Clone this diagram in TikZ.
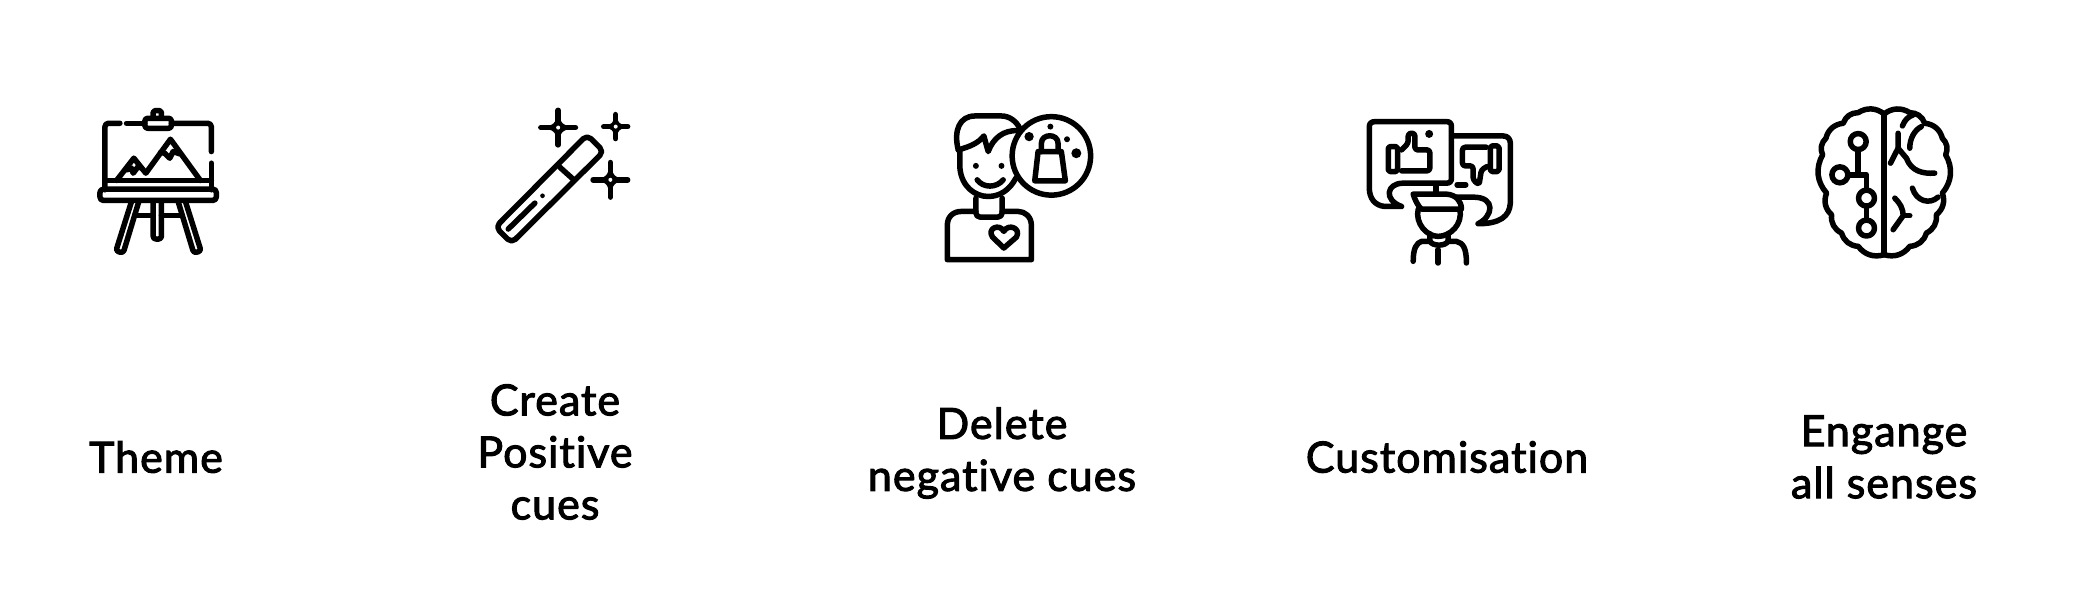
\documentclass[tikz,border=0pt]{standalone}
\usepackage{fontspec}
\setmainfont{Lato}[FakeBold=2.4, LetterSpace=2.5, Ligatures=CommonOff]
\usetikzlibrary{calc}

\tikzset{
  icon/.style={line width=0.055cm, line cap=round, line join=round},
  caption/.style={align=center, inner sep=0pt, font=\fontsize{12.2}{14.8}\selectfont},
}

\begin{document}
\begin{tikzpicture}
  \useasboundingbox (0,0) rectangle (20.9,-6.02);

  \begin{scope}[shift={(0.7,-0.9)}, x=0.003333cm, y=-0.003333cm, icon]
    \draw[rounded corners=1pt] (150,100) -- (105,100) -- (105,300);
    \draw (170,100) -- (225,100);
    \draw[rounded corners=1pt] (305,100) -- (425,100) -- (425,185);
    \draw (425,220) -- (425,300);
    \draw[rounded corners=0.8pt] (225,85) rectangle (305,115);
    \draw[rounded corners=0.5pt] (250,85) -- (250,62) -- (275,62) -- (275,85);
    \draw (105,272) -- (425,272);
    \draw (140,272) -- (192,205) -- (228,250) -- (302,148) -- (392,272);
    \draw (272,188) -- (285,190) -- (300,205) -- (310,185) -- (330,192);
    \draw (170,240) -- (185,235) -- (190,250) -- (205,230) -- (215,235);
    \draw[rounded corners=1pt] (90,298) rectangle (440,332);
    \draw[rounded corners=0.8pt] (185,335) -- (138,484) -- (160,490) -- (207,335);
    \draw[rounded corners=0.8pt] (325,335) -- (372,490) -- (394,484) -- (347,335);
    \draw[rounded corners=0.8pt] (250,335) -- (250,448) -- (275,448) -- (275,335);
    \draw (200,378) -- (250,378) (275,378) -- (330,378);
  \end{scope}

  \begin{scope}[shift={(4.7,-0.9)}, x=0.003333cm, y=-0.003333cm, icon]
    \draw[rounded corners=1.5pt] (352,135) -- (402,185) -- (125,460) -- (77,412) -- cycle;
    \draw (270,232) -- (310,268);
    \draw (115,418) -- (195,340);
    \fill (218,318) circle (7);
    \foreach \x/\y/\r in {265/113/52, 438/110/36, 422/270/52} {
      \draw (\x-\r,\y) -- (\x+\r,\y) (\x,\y-\r) -- (\x,\y+\r);
      \fill (\x-\r,\y) .. controls (\x-9,\y-9) .. (\x,\y-\r) .. controls (\x+9,\y-9) .. (\x+\r,\y) .. controls (\x+9,\y+9) .. (\x,\y+\r) .. controls (\x-9,\y+9) .. cycle;
      \fill[white] (\x,\y) circle (6);
    }
  \end{scope}

  \begin{scope}[shift={(9.2,-1)}, x=0.003333cm, y=-0.003333cm, icon]
    \draw (115,150) .. controls (100,90) and (120,48) .. (165,48) -- (245,48) .. controls (270,48) and (290,65) .. (300,85);
    \draw (115,150) .. controls (150,140) and (175,130) .. (192,108) -- (198,130) -- (205,155) .. controls (220,115) and (250,90) .. (295,92);
    \draw (120,150) -- (120,205) .. controls (125,260) and (165,290) .. (205,290) .. controls (240,290) and (270,270) .. (288,235);
    \draw (395,168) circle (118);
    \fill (168,198) circle (9) (245,198) circle (9);
    \draw (172,240) .. controls (190,265) and (230,265) .. (250,240);
    \draw[rounded corners=1.2pt] (168,295) -- (168,352) -- (247,352) -- (247,295);
    \draw (168,335) -- (125,335) .. controls (100,335) and (82,350) .. (82,378) -- (82,480) -- (335,480) -- (335,378) .. controls (335,350) and (315,335) .. (295,335) -- (247,335);
    \draw (252,445) -- (218,412) .. controls (200,385) and (240,370) .. (252,395) .. controls (265,370) and (305,385) .. (290,412) -- cycle;
    \draw (355,155) -- (425,155) -- (437,243) -- (345,243) -- cycle;
    \draw (365,155) -- (365,130) .. controls (365,100) and (415,100) .. (415,130) -- (415,155);
    \fill (328,110) circle (14) (392,80) circle (9) (442,118) circle (9) (470,160) circle (15);
  \end{scope}

  \begin{scope}[shift={(13.5,-1)}, x=0.003333cm, y=-0.003333cm, icon]
    \draw (155,320) -- (105,320) .. controls (75,318) and (58,295) .. (58,265) -- (58,80) .. controls (58,70) and (65,65) .. (75,65) -- (290,65) .. controls (300,65) and (305,70) .. (305,80) -- (305,235) .. controls (305,245) and (300,250) .. (290,250) -- (160,250) .. controls (110,250) and (100,300) .. (155,320);
    \draw (310,108) -- (460,108) .. controls (475,108) and (482,118) .. (482,130) -- (482,310) .. controls (480,350) and (450,372) .. (385,372) .. controls (430,350) and (440,292) .. (370,292) -- (320,292);
    \draw (322,255) -- (348,255);
    \draw (258,255) -- (258,275);
    \draw[rounded corners=0.5pt] (115,140) rectangle (143,215);
    \draw[rounded corners=0.8pt] (155,150) -- (175,130) -- (175,100) -- (195,100) -- (195,150) -- (240,150) -- (240,213) -- (155,213);
    \fill (238,102) circle (12);
    \draw[rounded corners=0.5pt] (422,138) rectangle (448,215);
    \draw[rounded corners=0.8pt] (410,142) -- (338,142) -- (338,198) -- (370,198) -- (370,240) -- (388,255) -- (395,210) -- (412,200);
    \draw (190,283) -- (290,283) .. controls (320,285) and (335,305) .. (335,328) -- (215,328) .. controls (205,320) and (195,300) .. (190,283);
    \draw (205,328) .. controls (195,370) and (230,410) .. (265,410) .. controls (300,410) and (340,375) .. (330,328);
    \draw (240,402) -- (240,425) -- (215,425) .. controls (200,430) and (190,445) .. (190,485);
    \draw (295,402) -- (295,425) -- (320,425) .. controls (340,430) and (350,445) .. (350,490);
    \draw (240,425) .. controls (250,440) and (285,440) .. (295,425);
    \draw (265,450) -- (265,490);
  \end{scope}

  \begin{scope}[shift={(17.9,-0.9)}, x=0.003333cm, y=-0.003333cm, icon]
    \draw (283,72) -- (283,495);
    \draw (283,72) to[bend right=35] (205,68) to[bend right=35] (160,100) to[bend right=35] (108,145) to[bend right=35] (98,195) to[bend right=35] (110,310) to[bend right=35] (125,375) to[bend right=35] (155,430) to[bend right=35] (205,470) to[bend right=35] (283,495);
    \draw (283,72) to[bend left=35] (360,68) to[bend left=35] (405,100) to[bend left=35] (458,145) to[bend left=35] (468,195) to[bend left=35] (458,310) to[bend left=35] (440,375) to[bend left=35] (410,430) to[bend left=35] (360,470) to[bend left=35] (283,495);
    \foreach \x/\y in {205/155, 150/255, 230/325, 230/415} {
      \draw (\x,\y) circle (24);
    }
    \draw (205,179) -- (205,255);
    \draw (174,255) -- (230,255) -- (230,301);
    \draw (230,349) -- (230,391);
    \draw (338,108) .. controls (345,90) and (355,80) .. (370,75);
    \draw (325,130) -- (325,175) -- (302,220);
    \draw (325,175) -- (350,205) .. controls (365,245) and (400,252) .. (435,250);
    \draw (360,175) .. controls (360,145) and (375,120) .. (395,110);
    \draw (368,295) .. controls (380,335) and (420,345) .. (445,322);
    \draw (315,325) .. controls (330,340) and (340,355) .. (340,378) -- (310,420);
    \draw (340,378) -- (360,378);
  \end{scope}

  \node[caption] (theme) at (1.56,-4.57) {Theme};
  \node[caption] (create) at (5.55,-4.52) {Create\\Positive\\cues};
  \node[caption] (delete) at (10.02,-4.53) {Delete\\negative cues};
  \node[caption] (custom) at (14.47,-4.57) {Customisation};
  \node[caption] (senses) at (18.84,-4.57) {Engange\\all senses};
\end{tikzpicture}
\end{document}
